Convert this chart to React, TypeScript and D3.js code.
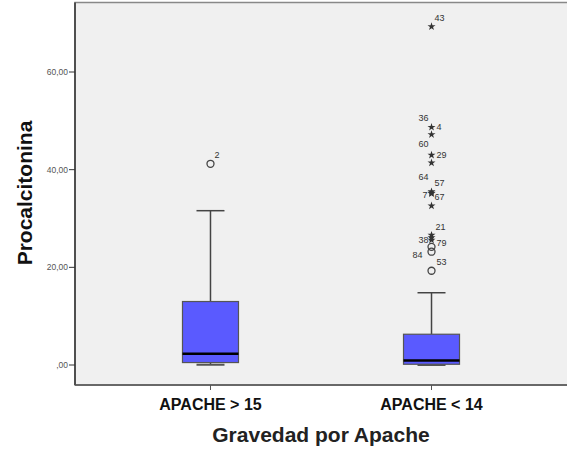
import React, { useRef, useEffect } from 'react';
import * as d3 from 'd3';

// categories and box statistics
const groups = ['APACHE > 15', 'APACHE < 14'];
const whiskerLow = [0.05, 0.0];
const q1 = [0.5, 0.15];
const median = [2.3, 0.9];
const q3 = [13.0, 6.3];
const whiskerHigh = [31.6, 14.8];

// outliers: group index, value, case id, kind (o = outlier, * = extreme)
const outGroup = [0, 1, 1, 1, 1, 1, 1, 1, 1, 1, 1, 1, 1, 1, 1, 1];
const outValue = [41.2, 69.3, 48.7, 47.2, 43.0, 41.4, 35.5, 35.2, 35.1, 32.6, 26.6, 26.1, 25.6, 24.2, 23.2, 19.3];
const outId = ['2', '43', '4', '36', '29', '60', '57', '7', '67', '64', '21', '38', '79', '84', '53', ''];
const outKind = ['o', '*', '*', '*', '*', '*', '*', '*', '*', '*', '*', '*', '*', 'o', 'o', 'o'];
// label placement relative to the marker: [dx, dy]
const labelPos: [number, number][] = [
  [4, -9], [3, -9], [5, 0], [-3, -17], [5, 0], [-3, -19], [3, -9], [-4, 2], [3, 3],
  [-3, -29], [4, -8], [-3, 2], [5, 3], [-9, 8], [5, 10], [0, 0],
];

const yTicks = [0, 20, 40, 60];

const W = 567;
const H = 449;

const App = () => {
  const svgRef = useRef<SVGSVGElement>(null);

  useEffect(() => {
    const svg = d3.select(svgRef.current);
    svg.selectAll('*').remove();

    const left = 75;
    const right = 568;
    const top = 2.5;
    const bottom = 385;
    const boxW = 56;

    const y = d3.scaleLinear().domain([0, 60]).range([365, 72]);
    const x = d3.scalePoint<string>().domain(groups).range([left, right - 1]).padding(0.613);

    // plot background
    svg.append('rect')
      .attr('x', left).attr('y', top)
      .attr('width', right - left).attr('height', bottom - top)
      .attr('fill', '#f0f0f0')
      .attr('stroke', '#888').attr('stroke-width', 1.5);

    // axes lines
    svg.append('line')
      .attr('x1', left).attr('x2', left).attr('y1', top).attr('y2', bottom)
      .attr('stroke', '#333').attr('stroke-width', 1.5);
    svg.append('line')
      .attr('x1', left).attr('x2', right).attr('y1', bottom).attr('y2', bottom)
      .attr('stroke', '#555').attr('stroke-width', 1.5);

    // y ticks
    const yt = svg.append('g');
    yTicks.forEach((t) => {
      yt.append('line')
        .attr('x1', left - 6).attr('x2', left).attr('y1', y(t)).attr('y2', y(t))
        .attr('stroke', '#333').attr('stroke-width', 1);
      yt.append('text')
        .attr('x', left - 7).attr('y', y(t)).attr('dy', '0.35em')
        .attr('text-anchor', 'end')
        .style('font-family', 'Liberation Sans, Arial, sans-serif')
        .style('font-size', '8.5px')
        .attr('fill', '#555')
        .text(t === 0 ? ',00' : d3.format('.2f')(t).replace('.', ','));
    });

    // x ticks + category labels
    groups.forEach((g) => {
      svg.append('line')
        .attr('x1', x(g)!).attr('x2', x(g)!).attr('y1', bottom).attr('y2', bottom + 5)
        .attr('stroke', '#555').attr('stroke-width', 1);
      svg.append('text')
        .attr('x', x(g)!).attr('y', 410)
        .attr('text-anchor', 'middle')
        .style('font-family', 'Liberation Sans, Arial, sans-serif')
        .style('font-size', '16px')
        .style('font-weight', 'bold')
        .attr('fill', '#111')
        .text(g);
    });

    // boxes
    groups.forEach((g, i) => {
      const cx = x(g)!;
      const b = svg.append('g');
      // whiskers
      b.append('line')
        .attr('x1', cx).attr('x2', cx).attr('y1', y(q3[i])).attr('y2', y(whiskerHigh[i]))
        .attr('stroke', '#444').attr('stroke-width', 1.5);
      b.append('line')
        .attr('x1', cx).attr('x2', cx).attr('y1', y(q1[i])).attr('y2', y(whiskerLow[i]))
        .attr('stroke', '#444').attr('stroke-width', 1.5);
      b.append('line')
        .attr('x1', cx - boxW / 4).attr('x2', cx + boxW / 4)
        .attr('y1', y(whiskerHigh[i])).attr('y2', y(whiskerHigh[i]))
        .attr('stroke', '#444').attr('stroke-width', 1.5);
      b.append('line')
        .attr('x1', cx - boxW / 4).attr('x2', cx + boxW / 4)
        .attr('y1', y(whiskerLow[i])).attr('y2', y(whiskerLow[i]))
        .attr('stroke', '#555').attr('stroke-width', 2);
      // box
      b.append('rect')
        .attr('x', cx - boxW / 2).attr('y', y(q3[i]))
        .attr('width', boxW).attr('height', y(q1[i]) - y(q3[i]))
        .attr('fill', '#5a5aff')
        .attr('stroke', '#555').attr('stroke-width', 1.2);
      // median
      b.append('line')
        .attr('x1', cx - boxW / 2).attr('x2', cx + boxW / 2)
        .attr('y1', y(median[i])).attr('y2', y(median[i]))
        .attr('stroke', '#000').attr('stroke-width', 2.5);
    });

    // outliers
    const star = d3.symbol().type(d3.symbolStar).size(20);
    outValue.forEach((v, k) => {
      const cx = x(groups[outGroup[k]])!;
      const cy = y(v);
      if (outKind[k] === 'o') {
        svg.append('circle')
          .attr('cx', cx).attr('cy', cy).attr('r', 3.5)
          .attr('fill', 'none').attr('stroke', '#444').attr('stroke-width', 1.3);
      } else {
        svg.append('path')
          .attr('d', star()!)
          .attr('transform', `translate(${cx},${cy})`)
          .attr('fill', '#333');
      }
      if (outId[k]) {
        const [dx, dy] = labelPos[k];
        svg.append('text')
          .attr('x', cx + dx).attr('y', cy + dy).attr('dy', '0.35em')
          .attr('text-anchor', dx < 0 ? 'end' : 'start')
          .style('font-family', 'Liberation Sans, Arial, sans-serif')
          .style('font-size', '9px')
          .attr('fill', '#333')
          .text(outId[k]);
      }
    });

    // axis titles
    svg.append('text')
      .attr('transform', 'rotate(-90)')
      .attr('x', -193).attr('y', 32)
      .attr('text-anchor', 'middle')
      .style('font-family', 'Liberation Sans, Arial, sans-serif')
      .style('font-size', '21px')
      .style('font-weight', 'bold')
      .attr('fill', '#111')
      .text('Procalcitonina');

    svg.append('text')
      .attr('x', 321).attr('y', 442)
      .attr('text-anchor', 'middle')
      .style('font-family', 'Liberation Sans, Arial, sans-serif')
      .style('font-size', '21px')
      .style('font-weight', 'bold')
      .attr('fill', '#222')
      .text('Gravedad por Apache');
  }, []);

  return (
    <svg
      ref={svgRef}
      width={W}
      height={H}
      style={{ position: 'absolute', left: 0, top: 0, background: '#fff' }}
    />
  );
};

export default App;
